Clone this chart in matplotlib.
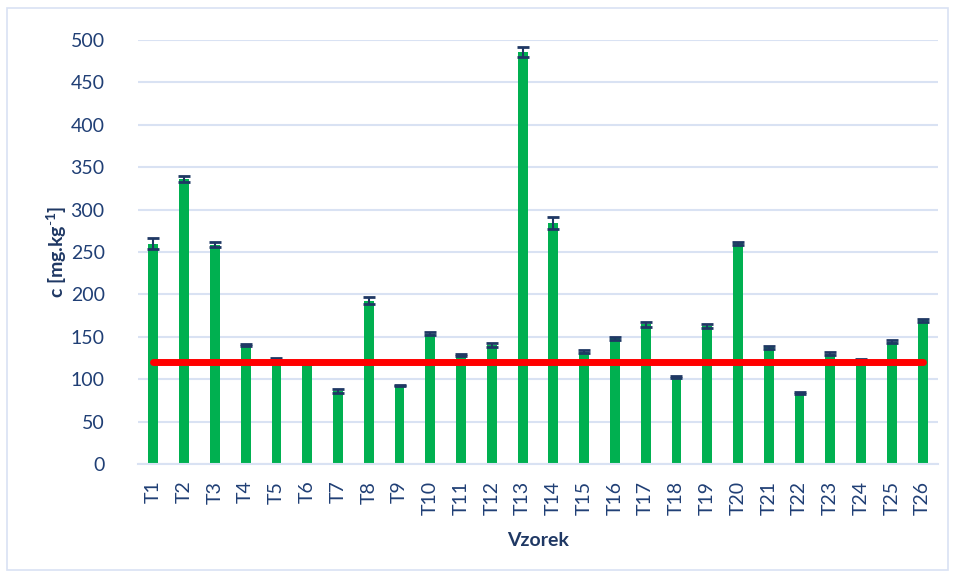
import numpy as np
import matplotlib.pyplot as plt
from matplotlib.patches import Rectangle

# data
samples = ["T%d" % i for i in range(1, 27)]
conc = [260, 336, 258.6, 140, 123, 118, 86, 192.7, 92.6, 153.8,
        128.3, 140.5, 485.8, 284, 132.6, 148, 164.8, 102.8, 162.8, 260.2,
        137.4, 83.6, 130.3, 123.6, 144.4, 169.5]
conc_err = [6, 4, 3, 1, 2, 0, 2, 4, 1, 2,
            1, 2, 5.5, 7, 2, 2, 3, 1, 2, 2,
            2, 1, 1.5, 0.5, 1.5, 2]
limit = [120] * 26

text_col = "#1F3864"
tick_col = "#203F75"
grid_col = "#D9E2F3"

plt.rcParams['font.family'] = ['Lato', 'DejaVu Sans']
plt.rcParams['mathtext.fontset'] = 'custom'
plt.rcParams['mathtext.rm'] = 'Lato'
plt.rcParams['mathtext.bf'] = 'Lato:bold'

fig = plt.figure(figsize=(9.55, 5.78), dpi=100)
fig.patches.append(Rectangle((7 / 955, 8 / 578), 941 / 955, 562 / 578,
                             transform=fig.transFigure, fill=False,
                             edgecolor="#D9E2F3", linewidth=1.2))
ax = fig.add_axes([138 / 955, 114 / 578, 800 / 955, 424 / 578])

x = np.arange(len(samples))
ax.bar(x, conc, width=0.32, color="#00B050", zorder=2)
ax.errorbar(x, conc, yerr=conc_err, fmt="none", ecolor=text_col,
            elinewidth=1.5, capsize=4.5, capthick=2, zorder=3)
ax.plot(x, limit, color="#FF0000", linewidth=5, solid_capstyle="round", zorder=4)

ax.set_xlim(-0.5, len(samples) - 0.5)
ax.set_ylim(0, 500)
ax.set_yticks(range(0, 501, 50))
ax.set_xticks(x)
ax.set_xticklabels(samples, rotation=90)
ax.tick_params(length=0, labelsize=14, labelcolor=tick_col)
ax.tick_params(axis="y", pad=24)
ax.tick_params(axis="x", pad=12)
ax.grid(axis="y", color=grid_col, linewidth=1.5, zorder=0)
ax.set_axisbelow(True)
for s in ["top", "right", "left"]:
    ax.spines[s].set_visible(False)
ax.spines["bottom"].set_color(grid_col)
ax.spines["bottom"].set_linewidth(1.5)

ax.set_ylabel("c [mg.kg$^{\\mathbf{\\text{-}1}}$]", fontsize=14, fontweight="bold",
              color=text_col)
ax.yaxis.set_label_coords(-0.086, 0.5)
ax.set_xlabel("Vzorek", fontsize=14, fontweight="bold", color=text_col)
ax.xaxis.set_label_coords(0.5, -0.16)

plt.savefig("out.png", dpi=100)
